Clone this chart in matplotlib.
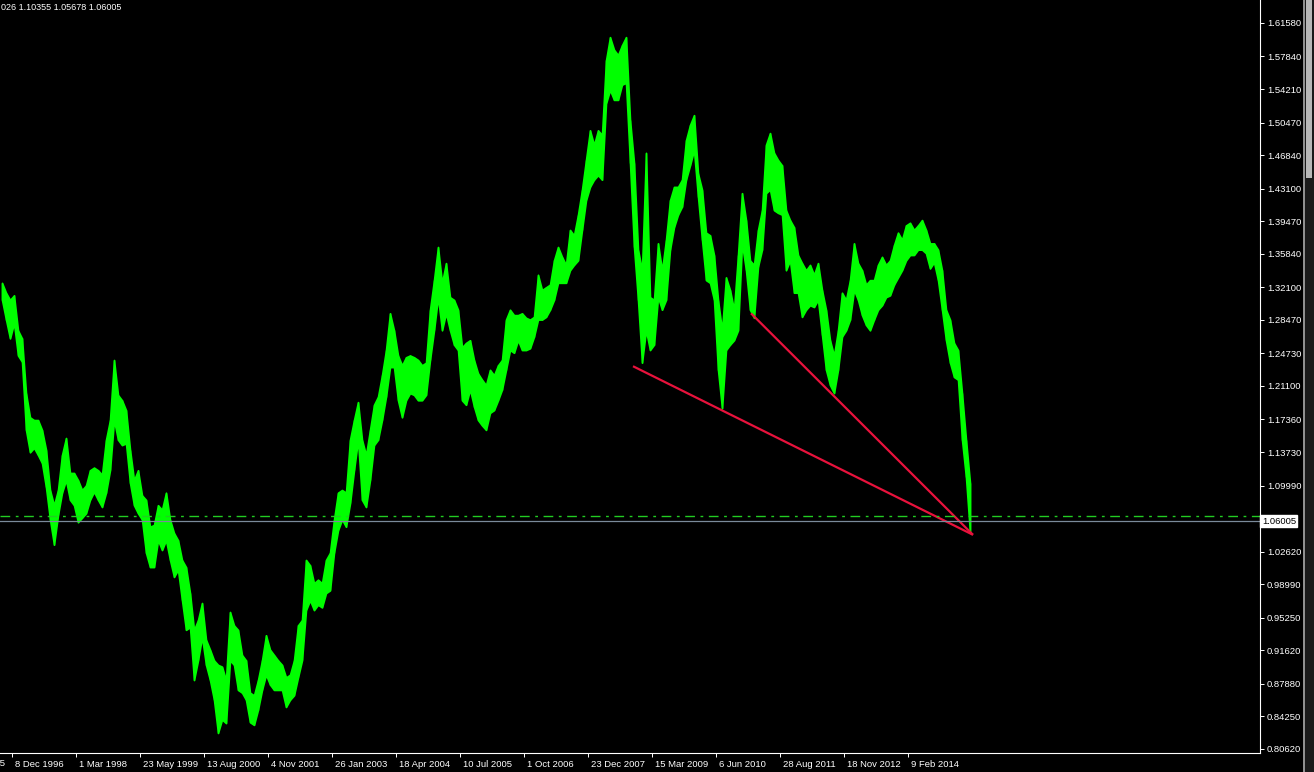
import numpy as np
import pandas as pd
import matplotlib
matplotlib.use("Agg")
import matplotlib.pyplot as plt
import matplotlib.transforms as mtransforms
from matplotlib.patches import Rectangle

# weekly EURUSD, one entry every 4 weeks (high / low of that block)
start_date = "1996-09-15"
step = 4
highs = [1.326, 1.315, 1.307, 1.312, 1.273, 1.264, 1.203, 1.176, 1.173, 1.173,
         1.162, 1.140, 1.095, 1.078, 1.095, 1.134, 1.153, 1.114, 1.114, 1.106,
         1.095, 1.100, 1.117, 1.120, 1.117, 1.112, 1.151, 1.173, 1.240, 1.201,
         1.195, 1.184, 1.140, 1.106, 1.117, 1.089, 1.084, 1.054, 1.056, 1.078,
         1.073, 1.092, 1.062, 1.047, 1.039, 1.017, 1.009, 0.980, 0.939, 0.950,
         0.969, 0.928, 0.917, 0.905, 0.900, 0.898, 0.883, 0.959, 0.944, 0.939,
         0.911, 0.905, 0.869, 0.866, 0.883, 0.905, 0.933, 0.917, 0.911, 0.905,
         0.900, 0.886, 0.889, 0.905, 0.944, 0.950, 1.017, 1.011, 0.991, 0.995,
         0.991, 1.017, 1.025, 1.062, 1.092, 1.095, 1.092, 1.151, 1.173, 1.193,
         1.151, 1.134, 1.162, 1.190, 1.199, 1.223, 1.251, 1.292, 1.273, 1.245,
         1.234, 1.243, 1.245, 1.243, 1.240, 1.234, 1.237, 1.296, 1.329, 1.366,
         1.326, 1.348, 1.310, 1.307, 1.296, 1.254, 1.259, 1.262, 1.240, 1.225,
         1.218, 1.212, 1.229, 1.223, 1.234, 1.240, 1.285, 1.296, 1.290, 1.290,
         1.292, 1.287, 1.285, 1.288, 1.335, 1.318, 1.321, 1.324, 1.351, 1.366,
         1.355, 1.346, 1.385, 1.379, 1.402, 1.430, 1.463, 1.496, 1.480, 1.496,
         1.491, 1.574, 1.600, 1.586, 1.580, 1.591, 1.600, 1.508, 1.460, 1.363,
         1.340, 1.471, 1.310, 1.307, 1.370, 1.340, 1.374, 1.418, 1.433, 1.433,
         1.441, 1.485, 1.502, 1.513, 1.448, 1.430, 1.382, 1.379, 1.357, 1.307,
         1.273, 1.332, 1.318, 1.296, 1.357, 1.426, 1.396, 1.351, 1.346, 1.385,
         1.407, 1.480, 1.493, 1.471, 1.463, 1.457, 1.407, 1.396, 1.388, 1.357,
         1.348, 1.340, 1.346, 1.335, 1.348, 1.318, 1.296, 1.262, 1.245, 1.273,
         1.315, 1.307, 1.329, 1.370, 1.348, 1.340, 1.324, 1.329, 1.329, 1.346,
         1.355, 1.346, 1.351, 1.368, 1.382, 1.374, 1.390, 1.393, 1.385, 1.390,
         1.396, 1.385, 1.370, 1.370, 1.363, 1.340, 1.296, 1.285, 1.259, 1.251,
         1.203, 1.151, 1.103]
lows = [1.307, 1.285, 1.264, 1.281, 1.245, 1.238, 1.162, 1.137, 1.142, 1.134,
        1.125, 1.098, 1.062, 1.034, 1.067, 1.092, 1.106, 1.084, 1.078, 1.059,
        1.064, 1.069, 1.084, 1.093, 1.084, 1.076, 1.092, 1.117, 1.173, 1.151,
        1.145, 1.147, 1.103, 1.078, 1.069, 1.062, 1.025, 1.009, 1.009, 1.039,
        1.028, 1.039, 1.017, 0.998, 1.006, 0.972, 0.939, 0.942, 0.883, 0.905,
        0.931, 0.900, 0.883, 0.861, 0.824, 0.839, 0.835, 0.905, 0.900, 0.872,
        0.869, 0.861, 0.836, 0.833, 0.850, 0.872, 0.889, 0.878, 0.872, 0.872,
        0.872, 0.853, 0.861, 0.866, 0.886, 0.905, 0.961, 0.972, 0.961, 0.967,
        0.964, 0.980, 0.983, 1.025, 1.050, 1.062, 1.054, 1.080, 1.117, 1.151,
        1.084, 1.076, 1.106, 1.145, 1.151, 1.173, 1.199, 1.232, 1.232, 1.195,
        1.176, 1.195, 1.203, 1.201, 1.195, 1.195, 1.201, 1.240, 1.273, 1.310,
        1.273, 1.292, 1.273, 1.257, 1.251, 1.195, 1.190, 1.207, 1.188, 1.173,
        1.167, 1.162, 1.181, 1.184, 1.195, 1.207, 1.229, 1.251, 1.248, 1.262,
        1.251, 1.251, 1.253, 1.266, 1.285, 1.285, 1.288, 1.296, 1.307, 1.326,
        1.326, 1.326, 1.340, 1.346, 1.351, 1.385, 1.418, 1.433, 1.441, 1.446,
        1.441, 1.526, 1.541, 1.530, 1.530, 1.547, 1.549, 1.460, 1.366, 1.307,
        1.237, 1.273, 1.251, 1.257, 1.310, 1.296, 1.307, 1.363, 1.388, 1.402,
        1.411, 1.441, 1.457, 1.474, 1.422, 1.374, 1.329, 1.326, 1.307, 1.229,
        1.186, 1.251, 1.257, 1.262, 1.273, 1.370, 1.340, 1.296, 1.287, 1.344,
        1.363, 1.426, 1.430, 1.407, 1.404, 1.402, 1.340, 1.351, 1.315, 1.315,
        1.288, 1.296, 1.301, 1.299, 1.307, 1.268, 1.229, 1.212, 1.203, 1.229,
        1.266, 1.273, 1.285, 1.318, 1.307, 1.290, 1.279, 1.273, 1.285, 1.296,
        1.301, 1.310, 1.312, 1.324, 1.332, 1.340, 1.351, 1.357, 1.357, 1.363,
        1.363, 1.359, 1.342, 1.349, 1.329, 1.296, 1.262, 1.237, 1.221, 1.218,
        1.151, 1.109, 1.047]

# trend lines drawn on the chart: (week index, price)
line_a_weeks = [633, 973]
line_a_prices = [1.233, 1.045]
line_b_weeks = [751, 973]
line_b_prices = [1.292, 1.045]

bid_price = 1.06005
level_price = 1.0655
header = "026 1.10355 1.05678 1.06005"

price_ticks = [1.61580, 1.57840, 1.54210, 1.50470, 1.46840, 1.43100, 1.39470,
               1.35840, 1.32100, 1.28470, 1.24730, 1.21100, 1.17360, 1.13730,
               1.09990, 1.02620, 0.98990, 0.95250, 0.91620, 0.87880, 0.84250,
               0.80620]
date_labels = ["8 Dec 1996", "1 Mar 1998", "23 May 1999", "13 Aug 2000",
               "4 Nov 2001", "26 Jan 2003", "18 Apr 2004", "10 Jul 2005",
               "1 Oct 2006", "23 Dec 2007", "15 Mar 2009", "6 Jun 2010",
               "28 Aug 2011", "18 Nov 2012", "9 Feb 2014"]

FONT = "Liberation Sans"
FS = 6.8

W, H = 1314, 772
fig = plt.figure(figsize=(W / 100, H / 100), dpi=100, facecolor="black")
ax = fig.add_axes([0, 19 / H, 1260 / W, 753 / H])
ax.set_facecolor("black")

t0 = pd.Timestamp(start_date)
def week_of(d):
    return (pd.Timestamp(d) - t0).days / 7

hi = np.array(highs)
lo = np.array(lows)
xs = np.arange(len(hi)) * step + step / 2
# price band: each block spans its weekly highs and lows
ax.fill_between(xs, lo, hi, color="#00ff00", linewidth=1.2, edgecolor="#00ff00")
ax.vlines(xs, lo, hi, color="#00ff00", linewidth=1.0)

ax.plot(line_a_weeks, line_a_prices, color="#e8123c", lw=1.6, solid_capstyle="butt")
ax.plot(line_b_weeks, line_b_prices, color="#e8123c", lw=1.6, solid_capstyle="butt")

ax.axhline(level_price, color="#22cc22", lw=1.0, linestyle=(0, (7, 4, 2, 4)))
ax.axhline(bid_price, color="#7a8a9a", lw=0.9)

ax.set_xlim(0, 1260)
ax.set_ylim(0.8017, 1.6414)

for s in ["top", "left"]:
    ax.spines[s].set_visible(False)
for s in ["right", "bottom"]:
    ax.spines[s].set_color("white")
    ax.spines[s].set_linewidth(0.8)

ax.yaxis.tick_right()
ax.set_yticks(price_ticks)
ax.set_yticklabels([f"{p:.5f}" for p in price_ticks])
ax.tick_params(axis="y", colors="white", direction="out", length=3, width=0.7,
               pad=2, labelsize=FS)

tick_weeks = [week_of(pd.to_datetime(d, format="%d %b %Y")) for d in date_labels]
ax.set_xticks(tick_weeks)
ax.set_xticklabels(date_labels)
ax.tick_params(axis="x", colors="white", direction="out", length=3, width=0.7,
               pad=2, labelsize=FS)
shift = mtransforms.ScaledTranslation(3 / 100, 0, fig.dpi_scale_trans)
for lbl in ax.get_xticklabels():
    lbl.set_ha("left")
    lbl.set_transform(lbl.get_transform() + shift)
for lbl in ax.get_xticklabels() + ax.get_yticklabels():
    lbl.set_fontfamily(FONT)

# previous date label, cut off by the left edge as on the original screen
prev = pd.to_datetime(date_labels[0], format="%d %b %Y") - pd.Timedelta(weeks=64)
fig.text((week_of(prev) + 3) / W, (19 - 11) / H, f"{prev.day} {prev:%b %Y}",
         color="white", fontsize=FS, family=FONT, va="center", ha="left")

# bid price box on the price scale
trans = mtransforms.blended_transform_factory(ax.transAxes, ax.transData)
ax.text(1.0015, bid_price, f"{bid_price:.5f}", transform=trans, color="black",
        fontsize=FS, family=FONT, va="center", ha="left", clip_on=False,
        bbox=dict(boxstyle="square,pad=0.15", fc="white", ec="white"))

fig.text(1 / W, 1 - 3 / H, header, color="white", fontsize=FS - 0.3, family=FONT,
         va="top", ha="left")

# scroll bar at the right edge
fig.patches.append(Rectangle((1303 / W, 0), 11 / W, 1, transform=fig.transFigure,
                             fc="#1a1a1a", ec="none"))
fig.patches.append(Rectangle((1303 / W, 0), 2 / W, 1, transform=fig.transFigure,
                             fc="#909090", ec="none"))
fig.patches.append(Rectangle((1306 / W, 1 - 178 / H), 6 / W, 178 / H,
                             transform=fig.transFigure, fc="#b8b8b8", ec="none"))

fig.savefig("out.png", dpi=100, facecolor="black")
